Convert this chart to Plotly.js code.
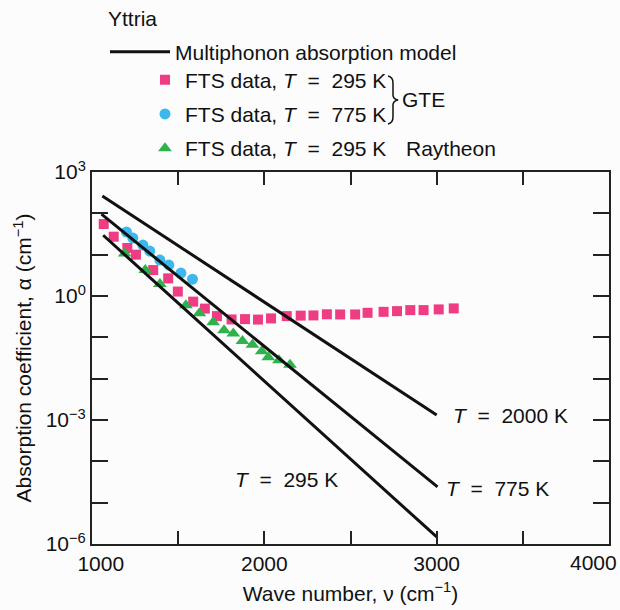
<!DOCTYPE html>
<html>
<head>
<meta charset="utf-8">
<script src="https://cdn.plot.ly/plotly-3.0.1.min.js"></script>
<style>html,body{margin:0;padding:0;background:#fcfcfd;}#chart{width:620px;height:610px;}</style>
</head>
<body>
<div id="chart"></div>
<script>
// GTE FTS data, T = 295 K (wave number cm^-1, absorption coefficient cm^-1)
const wnGte295 = [1068, 1126, 1205, 1255, 1355, 1442, 1498, 1587, 1655, 1725, 1810, 1888, 1963, 2039, 2130, 2211, 2285, 2363, 2440, 2527, 2599, 2692, 2770, 2847, 2924, 3012, 3099];
const alphaGte295 = [55.1, 27.2, 14.5, 10.0, 4.24, 2.67, 1.28, 0.731, 0.495, 0.326, 0.271, 0.276, 0.269, 0.287, 0.326, 0.335, 0.339, 0.361, 0.358, 0.358, 0.392, 0.414, 0.431, 0.456, 0.456, 0.474, 0.501];
// GTE FTS data, T = 775 K
const wnGte775 = [1200, 1237, 1295, 1335, 1394, 1446, 1516, 1583];
const alphaGte775 = [35.2, 25.2, 17.1, 12.2, 7.4, 5.6, 3.58, 2.56];
// Raytheon FTS data, T = 295 K
const wnRay295 = [1190, 1309, 1394, 1545, 1623, 1703, 1766, 1820, 1873, 1931, 1985, 2023, 2085, 2149];
const alphaRay295 = [10.7, 4.24, 1.94, 0.60, 0.385, 0.233, 0.149, 0.124, 0.081, 0.0665, 0.046, 0.033, 0.028, 0.0218];
// Multiphonon absorption model lines (end points)
const wnModel2000 = [1060, 3000];
const alphaModel2000 = [263, 0.00132];
const wnModel775 = [1055, 3005];
const alphaModel775 = [95.5, 0.000024];
const wnModel295 = [1065, 3000];
const alphaModel295 = [29.5, 0.00000148];
// axis ticks
const xTickVals = [1000, 2000, 3000];
const xTickText = ['\u00a0\u00a0\u00a01000', '2000', '3000'];
const xEdgeTickVal = 4000;
const xEdgeTickText = '4000';
const yTickVals = [1e-6, 1e-3, 1, 1000];
const yTickText = ['10<sup>\u22126</sup>', '10<sup>\u22123</sup>', '10<sup>0</sup>', '10<sup>3</sup>'];

const FONT = 'Liberation Sans, Arial, Helvetica, sans-serif';
const PINK = '#ef3d83', BLUE = '#3db8ec', GREEN = '#2fb24c';

// helpers: pixel position -> paper fraction (plot area 92..609 x 172..544)
const L = 92, R = 609, T = 172, B = 544;
const pxX = p => (p - L) / (R - L);
const pxY = p => (B - p) / (B - T);

const traces = [
  {x: wnGte295, y: alphaGte295, type: 'scatter', mode: 'markers', name: 'FTS data, <i>T</i>\u00a0 = \u00a0295 K',
   marker: {symbol: 'square', size: 10, color: PINK}, legend: 'legend2', legendgroup: 'a'},
  {x: wnGte775, y: alphaGte775, type: 'scatter', mode: 'markers', name: 'FTS data, <i>T</i>\u00a0 = \u00a0775 K',
   marker: {symbol: 'circle', size: 11, color: BLUE}, legend: 'legend2', legendgroup: 'b'},
  {x: wnRay295, y: alphaRay295, type: 'scatter', mode: 'markers', name: 'FTS data, <i>T</i>\u00a0 = \u00a0295 K',
   marker: {symbol: 'triangle-up', size: 12, color: GREEN}, legend: 'legend2', legendgroup: 'c'},
  {x: wnModel2000, y: alphaModel2000, type: 'scatter', mode: 'lines', name: 'Multiphonon absorption model',
   line: {color: '#111', width: 3}, legend: 'legend'},
  {x: wnModel775, y: alphaModel775, type: 'scatter', mode: 'lines', name: 'model 775 K',
   line: {color: '#111', width: 3}, showlegend: false},
  {x: wnModel295, y: alphaModel295, type: 'scatter', mode: 'lines', name: 'model 295 K',
   line: {color: '#111', width: 3}, showlegend: false}
];

const bx = 388;
const brace = 'M' + pxX(bx) + ',' + pxY(76) +
  ' Q' + pxX(bx + 5) + ',' + pxY(77) + ' ' + pxX(bx + 5) + ',' + pxY(83) +
  ' L' + pxX(bx + 5) + ',' + pxY(95) +
  ' Q' + pxX(bx + 5) + ',' + pxY(99) + ' ' + pxX(bx + 10) + ',' + pxY(100) +
  ' Q' + pxX(bx + 5) + ',' + pxY(101) + ' ' + pxX(bx + 5) + ',' + pxY(105) +
  ' L' + pxX(bx + 5) + ',' + pxY(117) +
  ' Q' + pxX(bx + 5) + ',' + pxY(123) + ' ' + pxX(bx) + ',' + pxY(124);

const layout = {
  width: 620, height: 610,
  margin: {l: L, r: 620 - R, t: T, b: 610 - B, pad: 0},
  paper_bgcolor: '#fcfcfd', plot_bgcolor: '#fcfcfd',
  font: {family: FONT, size: 21, color: '#111'},
  showlegend: true,
  xaxis: {
    type: 'linear', range: [1000, 4000], tickmode: 'array', tickvals: xTickVals, ticktext: xTickText,
    ticks: 'inside', ticklen: 13, tickwidth: 2, tickcolor: '#222',
    minor: {dtick: 500, tick0: 1000, ticks: 'inside', ticklen: 13, tickwidth: 2, tickcolor: '#222', showgrid: false},
    showline: true, linecolor: '#222', linewidth: 2, mirror: 'ticks', showgrid: false, zeroline: false,
    tickfont: {size: 21}, title: {text: 'Wave number, \u03bd (cm<sup>\u22121</sup>)', font: {size: 21}, standoff: 12}
  },
  yaxis: {
    type: 'log', range: [-6, 3], tickmode: 'array', tickvals: yTickVals, ticktext: yTickText,
    ticks: 'inside', ticklen: 16, tickwidth: 2, tickcolor: '#222',
    minor: {dtick: 1, tick0: 0, ticks: 'inside', ticklen: 16, tickwidth: 2, tickcolor: '#222', showgrid: false},
    showline: true, linecolor: '#222', linewidth: 2, mirror: 'ticks', showgrid: false, zeroline: false,
    tickfont: {size: 21}, title: {text: 'Absorption coefficient, \u03b1 (cm<sup>\u22121</sup>)', font: {size: 21}, standoff: 8}
  },
  legend: {x: pxX(105), y: pxY(52), xanchor: 'left', yanchor: 'middle', itemwidth: 60,
           bgcolor: 'rgba(0,0,0,0)', borderwidth: 0, font: {size: 21}},
  legend2: {x: pxX(145), y: pxY(114), xanchor: 'left', yanchor: 'middle', traceorder: 'grouped', tracegroupgap: 4,
            bgcolor: 'rgba(0,0,0,0)', borderwidth: 0, font: {size: 21}},
  shapes: [
    {type: 'path', xref: 'paper', yref: 'paper', path: brace, line: {color: '#111', width: 1.5}}
  ],
  annotations: [
    {xref: 'x', yref: 'paper', x: xEdgeTickVal, y: 0, xanchor: 'right', yanchor: 'top', yshift: -5, xshift: 10,
     text: xEdgeTickText, showarrow: false, font: {size: 21}},
    {xref: 'paper', yref: 'paper', x: pxX(106), y: pxY(19), xanchor: 'left', yanchor: 'middle', text: 'Yttria', showarrow: false},
    {xref: 'paper', yref: 'paper', x: pxX(400), y: pxY(100), xanchor: 'left', yanchor: 'middle', text: 'GTE', showarrow: false},
    {xref: 'paper', yref: 'paper', x: pxX(404), y: pxY(148), xanchor: 'left', yanchor: 'middle', text: 'Raytheon', showarrow: false},
    {xref: 'x', yref: 'y', x: 3085, y: -2.88, xanchor: 'left', yanchor: 'middle', text: '<i>T</i>\u00a0 = \u00a02000 K', showarrow: false},
    {xref: 'x', yref: 'y', x: 3045, y: -4.65, xanchor: 'left', yanchor: 'middle', text: '<i>T</i>\u00a0 = \u00a0775 K', showarrow: false},
    {xref: 'x', yref: 'y', x: 1818, y: -4.43, xanchor: 'left', yanchor: 'middle', text: '<i>T</i>\u00a0 = \u00a0295 K', showarrow: false}
  ]
};

Plotly.newPlot('chart', traces, layout, {displayModeBar: false, staticPlot: true});
</script>
</body>
</html>
